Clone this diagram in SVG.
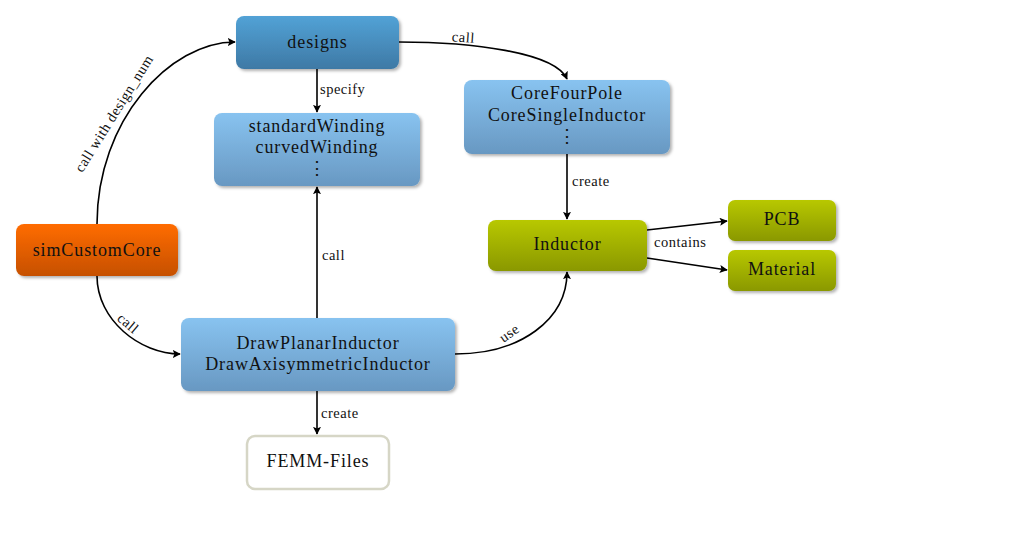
<svg xmlns="http://www.w3.org/2000/svg" width="1021" height="540" viewBox="0 0 1021 540">
<defs>
<linearGradient id="gDark" x1="0" y1="0" x2="0" y2="1"><stop offset="0" stop-color="#52a2d6"/><stop offset="1" stop-color="#3e79a5"/></linearGradient>
<linearGradient id="gLight" x1="0" y1="0" x2="0" y2="1"><stop offset="0" stop-color="#88c3f0"/><stop offset="1" stop-color="#6898c2"/></linearGradient>
<linearGradient id="gOrange" x1="0" y1="0" x2="0" y2="1"><stop offset="0" stop-color="#ff6c00"/><stop offset="1" stop-color="#c65000"/></linearGradient>
<linearGradient id="gOlive" x1="0" y1="0" x2="0" y2="1"><stop offset="0" stop-color="#b8c800"/><stop offset="1" stop-color="#8a9800"/></linearGradient>
<filter id="sh" x="-10%" y="-20%" width="130%" height="150%"><feDropShadow dx="2" dy="2" stdDeviation="1.6" flood-color="#000" flood-opacity="0.3"/></filter>
<marker id="arr" viewBox="0 0 10 10" refX="9" refY="5" markerWidth="8" markerHeight="8" markerUnits="userSpaceOnUse" orient="auto"><path d="M0,0 L10,5 L0,10 L2,5 Z" fill="#000"/></marker>
</defs>
<style>
.node{font-family:"Liberation Serif","DejaVu Serif",serif;font-size:18px;letter-spacing:0.9px;fill:#111;text-anchor:middle}
.lbl{font-family:"Liberation Serif","DejaVu Serif",serif;font-size:14.5px;letter-spacing:0.5px;fill:#111}
.edge{fill:none;stroke:#000;stroke-width:1.6;marker-end:url(#arr)}
</style>
<rect width="1021" height="540" fill="#fff"/>
<g id="connectors">
<path class="edge" d="M97,224 C97,120 170,42 235,42"/>
<path class="edge" d="M97,276 C97,320 140,354 180,354"/>
<path class="edge" d="M399,42 C470,42 555,52 567,79"/>
<path class="edge" d="M317,69 L317,112"/>
<path class="edge" d="M317,318 L317,187"/>
<path class="edge" d="M317,391 L317,434"/>
<path class="edge" d="M455,354 C520,354 567,320 567,272"/>
<path class="edge" d="M567,154 L567,219"/>
<path class="edge" d="M647,230 L727,221"/>
<path class="edge" d="M647,258 L727,270"/>
<text class="lbl" transform="translate(118,116) rotate(-58)" text-anchor="middle">call with design_num</text>
<text class="lbl" transform="translate(463,42) rotate(4)" text-anchor="middle">call</text>
<text class="lbl" transform="translate(125,327) rotate(40)" text-anchor="middle">call</text>
<text class="lbl" transform="translate(512,337) rotate(-35)" text-anchor="middle">use</text>
<text class="lbl" x="320" y="94">specify</text>
<text class="lbl" x="322" y="260">call</text>
<text class="lbl" x="321" y="418">create</text>
<text class="lbl" x="572" y="186">create</text>
<text class="lbl" x="654" y="247">contains</text>
</g>
<g id="designs"><rect x="236" y="16" width="163" height="53" rx="8" fill="url(#gDark)" filter="url(#sh)"/><text class="node" x="317.5" y="48">designs</text></g>
<g id="windings"><rect x="214" y="113" width="206" height="73" rx="8" fill="url(#gLight)" filter="url(#sh)"/><text class="node" x="317" y="132">standardWinding</text><text class="node" x="317" y="153">curvedWinding</text><text class="node" x="317" y="174">⋮</text></g>
<g id="cores"><rect x="464" y="80" width="206" height="74" rx="8" fill="url(#gLight)" filter="url(#sh)"/><text class="node" x="567" y="99">CoreFourPole</text><text class="node" x="567" y="121">CoreSingleInductor</text><text class="node" x="567" y="142">⋮</text></g>
<g id="simCustomCore"><rect x="16" y="224" width="162" height="52" rx="8" fill="url(#gOrange)" filter="url(#sh)"/><text class="node" x="97" y="256">simCustomCore</text></g>
<g id="draw"><rect x="181" y="318" width="274" height="73" rx="8" fill="url(#gLight)" filter="url(#sh)"/><text class="node" x="318" y="349">DrawPlanarInductor</text><text class="node" x="318" y="370">DrawAxisymmetricInductor</text></g>
<g id="femm"><rect x="247" y="436" width="142" height="53" rx="8" fill="#fff" stroke="#d6d6c6" stroke-width="2.5"/><text class="node" x="318" y="467">FEMM-Files</text></g>
<g id="inductor"><rect x="488" y="220" width="159" height="51" rx="8" fill="url(#gOlive)" filter="url(#sh)"/><text class="node" x="567.5" y="250">Inductor</text></g>
<g id="pcb"><rect x="728" y="200" width="108" height="41" rx="7" fill="url(#gOlive)" filter="url(#sh)"/><text class="node" x="782" y="225">PCB</text></g>
<g id="material"><rect x="728" y="250" width="108" height="41" rx="7" fill="url(#gOlive)" filter="url(#sh)"/><text class="node" x="782" y="275">Material</text></g>
</svg>
